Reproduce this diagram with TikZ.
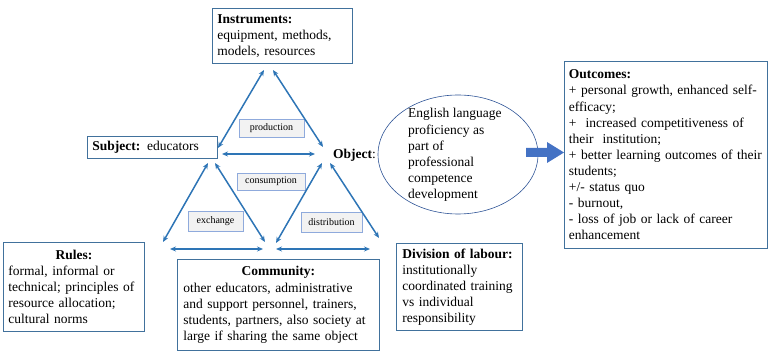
\documentclass[tikz,border=0pt]{standalone}
\usepackage{fontspec}
\setmainfont{Liberation Serif}
\usetikzlibrary{arrows.meta,shapes.geometric}
\definecolor{boxblue}{HTML}{41719C}
\definecolor{arrblue}{HTML}{2E75B6}
\definecolor{ellblue}{HTML}{2F5597}
\definecolor{bigblue}{HTML}{4472C4}
\definecolor{lblfill}{HTML}{F2F2F2}
\definecolor{lblline}{HTML}{8FAADC}
\tikzset{
  mainfont/.style={font=\fontsize{13.5}{16.1}\selectfont},
  infobox/.style={draw=boxblue, line width=0.9pt, anchor=north west, align=left,
    inner xsep=5pt, inner ysep=2pt, mainfont},
  lblbox/.style={draw=lblline, fill=lblfill, line width=0.8pt,
    font=\fontsize{10}{12}\selectfont, inner sep=0pt},
  linkarrow/.style={draw=arrblue, line width=1.5pt,
    {Stealth[length=6pt,width=5pt]}-{Stealth[length=6pt,width=5pt]}},
}
\begin{document}
\begin{tikzpicture}[x=1pt,y=-1pt]
\useasboundingbox (0,0) rectangle (777,355);

% boxes
\node[infobox, text width=130, minimum height=55] (instr) at (212,8)
  {\textbf{Instruments:}\\equipment, methods,\\models, resources};
\node[infobox, text width=120, minimum height=22, inner ysep=0pt] (subj) at (87,136)
  {\textbf{Subject:} educators};
\node[mainfont, anchor=base west, inner sep=0pt] (obj) at (333,159) {\textbf{Object}:};
\node[infobox, text width=131, minimum height=89] (rules) at (3,242)
  {\makebox[\hsize]{\textbf{Rules:}}\\formal, informal or\\technical; principles of\\resource allocation;\\cultural norms};
\node[infobox, text width=190, minimum height=91, inner xsep=6pt] (comm) at (177,259)
  {\makebox[\hsize]{\textbf{Community:}}\\other educators, administrative\\and support personnel, trainers,\\students, partners, also society at\\large if sharing the same object};
\node[infobox, text width=114, minimum height=87, inner xsep=6pt] (div) at (396,243)
  {\textbf{Division of labour:}\\institutionally\\coordinated training\\vs individual\\responsibility};
\node[infobox, text width=194, minimum height=187, inner xsep=4.5pt] (outc) at (564,61)
  {\textbf{Outcomes:}\\+ personal growth, enhanced self-\\efficacy;\\+\ \ increased competitiveness of\\their\ \ institution;\\+ better learning outcomes of their\\students;\\+/- status quo\\- burnout,\\- loss of job or lack of career\\enhancement};

% ellipse
\node[ellipse, draw=ellblue, line width=0.6pt, minimum width=160, minimum height=119, inner sep=0pt] (ell) at (458,154.5) {};
\node[mainfont, anchor=west, align=left, inner sep=0pt] (elltext) at (408,155)
  {English language\\proficiency as\\part of\\professional\\competence\\development};

% big arrow
\coordinate (bigS) at (526,152.5);
\coordinate (bigE) at (564,152.5);
\fill[bigblue] (526,148) -- (547,148) -- (547,142) -- (564,152.5) -- (547,163) -- (547,157) -- (526,157) -- cycle;

% label boxes
\node[lblbox, minimum width=65, minimum height=18] (prod) at (271.5,128) {production};
\node[lblbox, minimum width=68, minimum height=17] (cons) at (271,181.5) {consumption};
\node[lblbox, minimum width=55, minimum height=20] (exch) at (215.5,221) {exchange};
\node[lblbox, minimum width=61, minimum height=20] (dist) at (331.5,222) {distribution};

% arrow endpoints
\coordinate (a1) at (264,70);  \coordinate (a2) at (218,148);
\coordinate (b1) at (273,70);  \coordinate (b2) at (323,147);
\coordinate (c1) at (222,154); \coordinate (c2) at (315,154);
\coordinate (d1) at (208,163); \coordinate (d2) at (163,242);
\coordinate (e1) at (215,163); \coordinate (e2) at (265,242);
\coordinate (f1) at (322,163); \coordinate (f2) at (276,243);
\coordinate (g1) at (330,163); \coordinate (g2) at (379,238);
\coordinate (h1) at (170,249); \coordinate (h2) at (263,249);
\coordinate (k1) at (276,249); \coordinate (k2) at (370,249);

\draw[linkarrow] (a1) -- (a2);
\draw[linkarrow] (b1) -- (b2);
\draw[linkarrow] (c1) -- (c2);
\draw[linkarrow] (d1) -- (d2);
\draw[linkarrow] (e1) -- (e2);
\draw[linkarrow] (f1) -- (f2);
\draw[linkarrow] (g1) -- (g2);
\draw[linkarrow] (h1) -- (h2);
\draw[linkarrow] (k1) -- (k2);
\end{tikzpicture}
\end{document}
